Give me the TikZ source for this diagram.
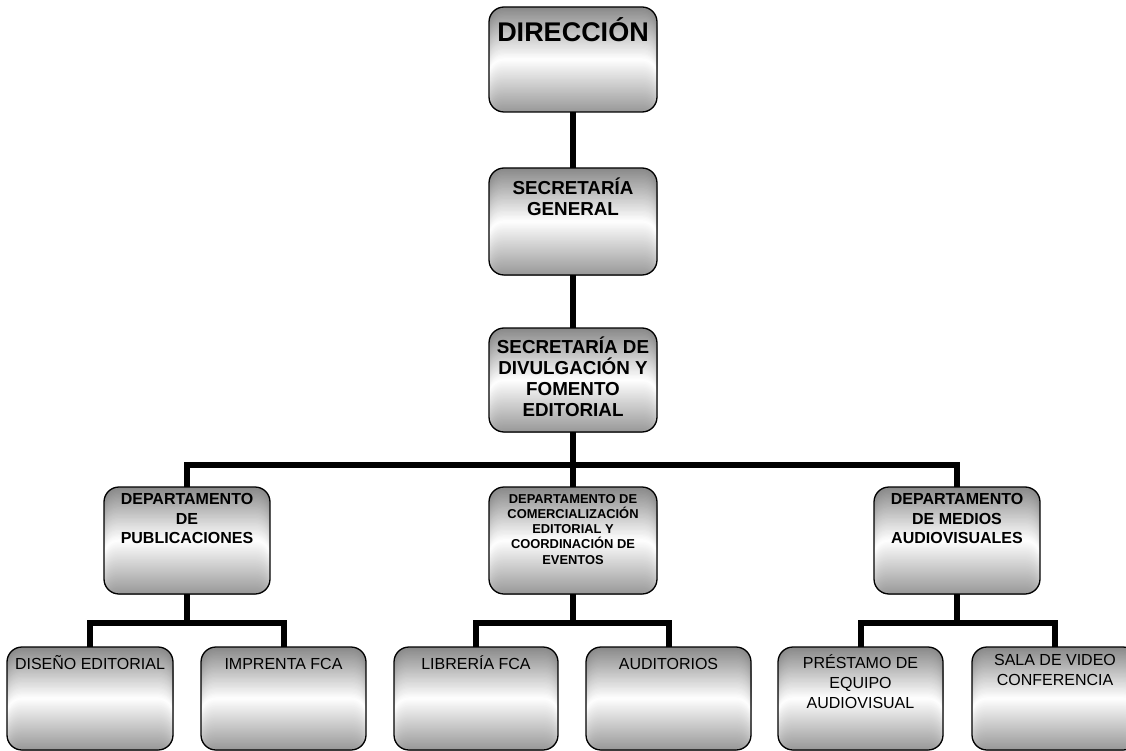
\documentclass[tikz,border=0pt]{standalone}
\usepackage{fontspec}
\setmainfont{Liberation Sans}
\usetikzlibrary{calc}
\newcommand\orgbox[5]{\node[box, minimum width={#4-#2}, minimum height={#5-#3}] (#1) at ({(#2+#4)/2},{(#3+#5)/2}) {};}
\newcommand\lead{\rule{0pt}{0.95em}}
\tikzset{
  box/.style={draw=black, line width=1.3pt, rounded corners=15pt, inner sep=0pt, outer sep=0pt,
    path picture={
      \foreach \i in {0,...,79}{
        \pgfmathsetmacro\p{\i<40 ? 47*(1-(\i+0.5)/40) : 40*((\i+0.5)/40-1)}
        \fill[black!\p] ($(path picture bounding box.north west)!{\i/80}!(path picture bounding box.south west)$)
          rectangle (path picture bounding box.south east);
      }}},
  conn/.style={line width=6pt, line join=miter, draw=black},
  lbl/.style={anchor=north, inner sep=0pt, outer sep=0pt, align=center, execute at begin node=\lead},
  big/.style={lbl, font=\fontsize{27}{30}\selectfont\bfseries},
  mid/.style={lbl, font=\fontsize{18.8}{21}\selectfont\bfseries},
  dept/.style={lbl, font=\fontsize{16}{19.5}\selectfont\bfseries},
  small/.style={lbl, font=\fontsize{12.9}{15.3}\selectfont\bfseries},
  leaf/.style={lbl, font=\fontsize{16}{20}\selectfont},
}
\begin{document}
\begin{tikzpicture}[x=1pt,y=-1pt]
\useasboundingbox (0,0) rectangle (1126,751);
\clip (0,0) rectangle (1126,751);
\orgbox{dir}{489}{7}{657}{112}
\orgbox{sg}{489}{168}{657}{275}
\orgbox{sd}{489}{328}{657}{432}
\orgbox{dp}{104}{487}{270}{594}
\orgbox{dc}{489}{487}{657}{594}
\orgbox{dm}{874}{487}{1040}{594}
\orgbox{b1}{7}{647}{173}{750}
\orgbox{b2}{201}{647}{366}{750}
\orgbox{b3}{394}{647}{558}{750}
\orgbox{b4}{586}{647}{751}{750}
\orgbox{b5}{778}{647}{943}{750}
\orgbox{b6}{972}{647}{1138}{750}

\node[big] (dirT) at ([yshift=-8.7pt]dir.north) {DIRECCIÓN};
\node[mid] (sgT) at ([yshift=-10pt]sg.north) {SECRETARÍA\\GENERAL};
\node[mid] (sdT) at ([yshift=-9pt]sd.north) {SECRETARÍA DE\\DIVULGACIÓN Y\\FOMENTO\\EDITORIAL};
\node[dept] (dpT) at ([yshift=-6.4pt]dp.north) {DEPARTAMENTO\\DE\\PUBLICACIONES};
\node[small] (dcT) at ([yshift=-7pt]dc.north) {DEPARTAMENTO DE\\COMERCIALIZACIÓN\\EDITORIAL Y\\COORDINACIÓN DE\\EVENTOS};
\node[dept] (dmT) at ([yshift=-6.4pt]dm.north) {DEPARTAMENTO\\DE MEDIOS\\AUDIOVISUALES};
\node[leaf] (b1T) at ([yshift=-7.4pt]b1.north) {DISEÑO EDITORIAL};
\node[leaf] (b2T) at ([yshift=-7.4pt]b2.north) {IMPRENTA FCA};
\node[leaf] (b3T) at ([yshift=-7.4pt]b3.north) {LIBRERÍA FCA};
\node[leaf] (b4T) at ([yshift=-7.4pt]b4.north) {AUDITORIOS};
\node[leaf] (b5T) at ([yshift=-7.4pt]b5.north) {PRÉSTAMO DE\\EQUIPO\\AUDIOVISUAL};
\node[leaf] (b6T) at ([yshift=-7.4pt]b6.north) {SALA DE VIDEO\\CONFERENCIA};

\coordinate (j1) at (573,465);
\coordinate (j2) at (187,623);
\coordinate (j3) at (573,623);
\coordinate (j4) at (957,623);

\draw[conn] (dir.south) -- (sg.north);
\draw[conn] (sg.south) -- (sd.north);
\draw[conn] (sd.south) -- (dc.north);
\draw[conn] (dp.north) |- (j1) -| (dm.north);
\draw[conn] (dp.south) -- (j2);
\draw[conn] (b1.north) |- (j2) -| (b2.north);
\draw[conn] (dc.south) -- (j3);
\draw[conn] (b3.north) |- (j3) -| (b4.north);
\draw[conn] (dm.south) -- (j4);
\draw[conn] (b5.north) |- (j4) -| (b6.north);
\end{tikzpicture}
\end{document}
